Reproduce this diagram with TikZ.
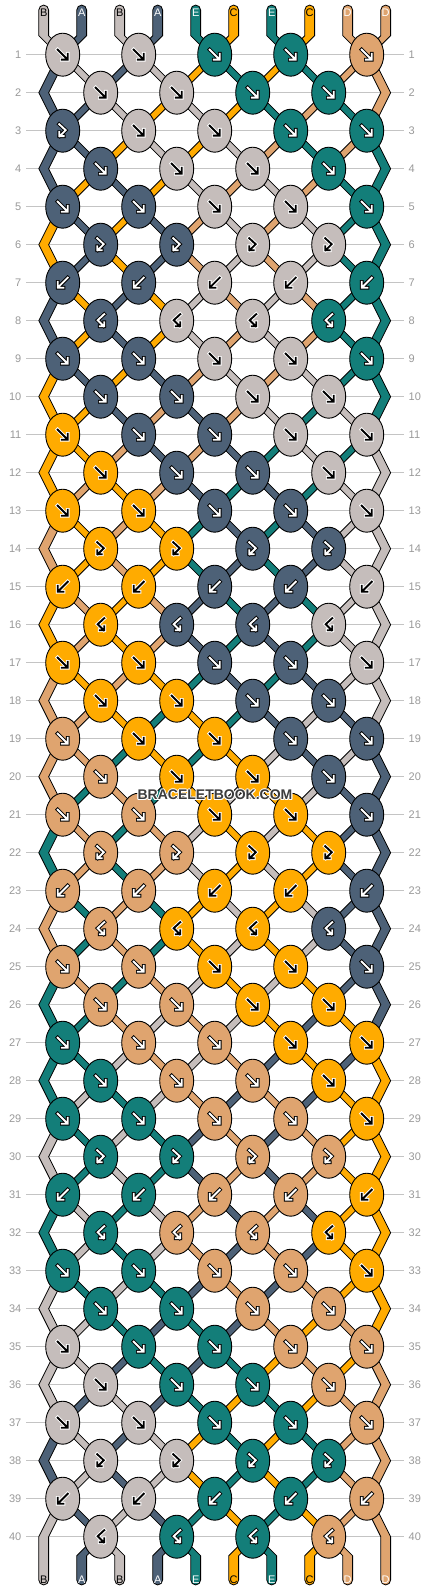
\documentclass[tikz,border=0pt]{standalone}
\usepackage{fontspec}
\setmainfont{Liberation Sans}
\usetikzlibrary{shapes.geometric}
\definecolor{colG}{HTML}{C5BDBB}
\definecolor{colS}{HTML}{4D6177}
\definecolor{colT}{HTML}{137E79}
\definecolor{colO}{HTML}{FFAB00}
\definecolor{colN}{HTML}{DFA46F}
\definecolor{guidegray}{HTML}{C4C4C4}
\definecolor{numgray}{HTML}{999999}
\definecolor{wmgray}{HTML}{3C3C3C}

\def\statelist{{G,S,G,S,T,O,T,O,N,N},{S,G,S,G,O,T,O,T,N,N},{S,S,G,O,G,O,T,N,T,N},{S,S,O,G,O,G,N,T,N,T},{S,O,S,O,G,N,G,N,T,T},{O,S,O,S,N,G,N,G,T,T},{O,S,O,S,N,G,N,G,T,T},{S,O,S,O,G,N,G,N,T,T},{S,O,S,O,G,N,G,N,T,T},{O,S,O,S,N,G,N,G,T,T},{O,O,S,N,S,N,G,T,G,T},{O,O,N,S,N,S,T,G,T,G},{O,N,O,N,S,T,S,T,G,G},{N,O,N,O,T,S,T,S,G,G},{N,O,N,O,T,S,T,S,G,G},{O,N,O,N,S,T,S,T,G,G},{O,N,O,N,S,T,S,T,G,G},{N,O,N,O,T,S,T,S,G,G},{N,N,O,T,O,T,S,G,S,G},{N,N,T,O,T,O,G,S,G,S},{N,T,N,T,O,G,O,G,S,S},{T,N,T,N,G,O,G,O,S,S},{T,N,T,N,G,O,G,O,S,S},{N,T,N,T,O,G,O,G,S,S},{N,T,N,T,O,G,O,G,S,S},{T,N,T,N,G,O,G,O,S,S},{T,T,N,G,N,G,O,S,O,S},{T,T,G,N,G,N,S,O,S,O},{T,G,T,G,N,S,N,S,O,O},{G,T,G,T,S,N,S,N,O,O},{G,T,G,T,S,N,S,N,O,O},{T,G,T,G,N,S,N,S,O,O},{T,G,T,G,N,S,N,S,O,O},{G,T,G,T,S,N,S,N,O,O},{G,G,T,S,T,S,N,O,N,O},{G,G,S,T,S,T,O,N,O,N},{G,S,G,S,T,O,T,O,N,N},{S,G,S,G,O,T,O,T,N,N},{S,G,S,G,O,T,O,T,N,N},{G,S,G,S,T,O,T,O,N,N},{G,S,G,S,T,O,T,O,N,N}}

\newcommand\getP[2]{%
 \pgfmathsetmacro\py{54.7+38*(#2-1)}%
 \pgfmathsetmacro\px{43.7+38*(#1-1)+(isodd(#2)?(isodd(#1)?19:-19):(((#1==1)||(#1==10))?0:(isodd(#1)?-19:19)))}%
}
\def\hw{4.9}

\tikzset{
  band/.style={draw=black, line width=0.8pt, line join=miter},
  knot/.style={ellipse, draw=black, line width=0.9pt, minimum width=34pt, minimum height=43pt, inner sep=0pt},
  glo/.style={draw=\gbg, line width=3.8pt, line cap=rect, line join=miter},
  gli/.style={draw=\gfg, line width=1.9pt, line cap=rect, line join=miter},
  gly1/.pic={\draw[glo] (-5,-5)--(4.2,4.2) (-0.8,5)--(5,5)--(5,-0.8);
             \draw[gli] (-5,-5)--(4.2,4.2) (-0.8,5)--(5,5)--(5,-0.8);},
  gly2/.pic={\draw[glo] (5,-5)--(-4.2,4.2) (0.8,5)--(-5,5)--(-5,-0.8);
             \draw[gli] (5,-5)--(-4.2,4.2) (0.8,5)--(-5,5)--(-5,-0.8);},
  gly3/.pic={\draw[glo] (-3.5,-6.5)--(3,-0.5)--(-3,5.5) (1,5.5)--(-3.5,5.5)--(-3.5,1.5);
             \draw[gli] (-3.5,-6.5)--(3,-0.5)--(-3,5.5) (1,5.5)--(-3.5,5.5)--(-3.5,1.5);},
  gly4/.pic={\draw[glo] (3.5,-6.5)--(-3,-0.5)--(3,5.5) (-1,5.5)--(3.5,5.5)--(3.5,1.5);
             \draw[gli] (3.5,-6.5)--(-3,-0.5)--(3,5.5) (-1,5.5)--(3.5,5.5)--(3.5,1.5);},
  rownum/.style={text=numgray, font=\fontsize{11}{11}\selectfont, inner sep=0pt},
  endlab/.style={font=\fontsize{11}{11}\selectfont, inner sep=0pt},
  wmark/.style={font=\bfseries\fontsize{14}{14}\selectfont, inner sep=0pt}
}

\begin{document}
\begin{tikzpicture}[x=1pt,y=-1pt]
\useasboundingbox (0,0) rectangle (430,1592);
\fill[white] (0,0) rectangle (430,1592);

% guide lines and row numbers
\foreach \rr in {1,...,40}{
  \pgfmathsetmacro\yy{54.7+38*(\rr-1)}
  \draw[guidegray, line width=0.9pt] (26,\yy) -- (404,\yy);
  \node[rownum, anchor=east] (ln\rr) at (21.5,\yy) {\rr};
  \node[rownum, anchor=west] (rn\rr) at (408.5,\yy) {\rr};
}

% strands (bands of constant horizontal width)
\foreach \st [count=\sidx from 0] in \statelist {
  \foreach \cl [count=\li] in \st {\expandafter\xdef\csname L\li\endcsname{\cl}}
  \foreach \li in {1,...,10} {
    \edef\cc{col\csname L\li\endcsname}
    \pgfmathsetmacro\lx{43.7+38*(\li-1)}
    \ifnum\sidx=0
      \getP{\li}{1}
      \filldraw[band, fill=\cc] ({\lx-\hw},10) -- ({\lx-\hw},35.7) -- ({\px-\hw},\py) -- ({\px+\hw},\py)
        -- ({\lx+\hw},35.7) -- ({\lx+\hw},10) arc[start angle=0, end angle=-180, radius=\hw] -- cycle;
    \else
      \ifnum\sidx=40
        \ifnum\li>1 \ifnum\li<10
          \getP{\li}{40}
          \filldraw[band, fill=\cc] ({\px-\hw},\py) -- ({\lx-\hw},1555.7) -- ({\lx-\hw},1580)
            arc[start angle=180, end angle=0, radius=\hw] -- ({\lx+\hw},1555.7) -- ({\px+\hw},\py) -- cycle;
        \fi\fi
      \else
        \pgfmathtruncatemacro\sn{\sidx+1}
        \getP{\li}{\sidx}\let\ax\px\let\ay\py
        \pgfmathtruncatemacro\isedge{(\li==1)||(\li==10)}
        \ifnum\isedge=1
          \ifodd\sidx\relax
            \pgfmathsetmacro\ey{54.7+38*\sidx}
            \ifnum\sidx<39
              \pgfmathtruncatemacro\snn{\sidx+2}
              \getP{\li}{\snn}
              \filldraw[band, fill=\cc] ({\ax-\hw},\ay) -- ({\lx-\hw},\ey) -- ({\px-\hw},\py)
                -- ({\px+\hw},\py) -- ({\lx+\hw},\ey) -- ({\ax+\hw},\ay) -- cycle;
            \else
              \filldraw[band, fill=\cc] ({\ax-\hw},\ay) -- ({\lx-\hw},\ey) -- ({\lx-\hw},1580)
                arc[start angle=180, end angle=0, radius=\hw] -- ({\lx+\hw},\ey) -- ({\ax+\hw},\ay) -- cycle;
            \fi
          \fi
        \else
          \getP{\li}{\sn}
          \filldraw[band, fill=\cc] ({\ax-\hw},\ay) -- ({\px-\hw},\py) -- ({\px+\hw},\py) -- ({\ax+\hw},\ay) -- cycle;
        \fi
      \fi
    \fi
  }
}

% end labels
\foreach \lab/\tc [count=\li] in {B/black,A/white,B/black,A/white,E/white,C/black,E/white,C/black,D/white,D/white}{
  \pgfmathsetmacro\lx{43.7+38*(\li-1)}
  \node[endlab, text=\tc] (top\li) at (\lx,12.3) {\lab};
  \node[endlab, text=\tc] (bot\li) at (\lx,1579.5) {\lab};
}

% knots
\foreach \st [count=\sidx from 0] in \statelist {
 \ifnum\sidx<40
  \foreach \cl [count=\li] in \st {\expandafter\xdef\csname L\li\endcsname{\cl}}
  \pgfmathtruncatemacro\rr{\sidx+1}
  \pgfmathtruncatemacro\mm{mod(\rr,8)}
  \def\ktype{1}
  \ifnum\mm=6 \def\ktype{3}\fi
  \ifnum\mm=7 \def\ktype{2}\fi
  \ifnum\mm=0 \def\ktype{4}\fi
  \ifodd\rr\relax \def\klist{1,3,5,7,9}\else \def\klist{2,4,6,8}\fi
  \pgfmathsetmacro\ky{54.7+38*(\rr-1)}
  \foreach \li in \klist {
    \ifnum\rr=3 \ifnum\li=1 \def\ktype{3}\fi\fi
    \pgfmathtruncatemacro\lj{\li+1}
    \ifodd\ktype\relax \edef\kk{\csname L\li\endcsname}\else \edef\kk{\csname L\lj\endcsname}\fi
    \edef\kfill{col\kk}
    \def\gfg{white}\def\gbg{black}
    \if G\kk \def\gfg{black}\def\gbg{white}\fi
    \if O\kk \def\gfg{black}\def\gbg{white}\fi
    \pgfmathsetmacro\kx{62.7+38*(\li-1)}
    \node[knot, fill=\kfill] (k\rr-\li) at (\kx,\ky) {};
    \ifcase\ktype\relax\or \pic at (\kx,\ky) {gly1};\or \pic at (\kx,\ky) {gly2};\or \pic at (\kx,\ky) {gly3};\or \pic at (\kx,\ky) {gly4};\fi
  }
 \fi
}

% watermark
\foreach \dx/\dy in {-1/0,1/0,0/-1,0/1,-0.8/-0.8,0.8/0.8,-0.8/0.8,0.8/-0.8}{
  \node[wmark, text=white] at (215+\dx,795+\dy) {BRACELETBOOK.COM};
}
\node[wmark, text=wmgray] (wm) at (215,795) {BRACELETBOOK.COM};
\end{tikzpicture}
\end{document}
